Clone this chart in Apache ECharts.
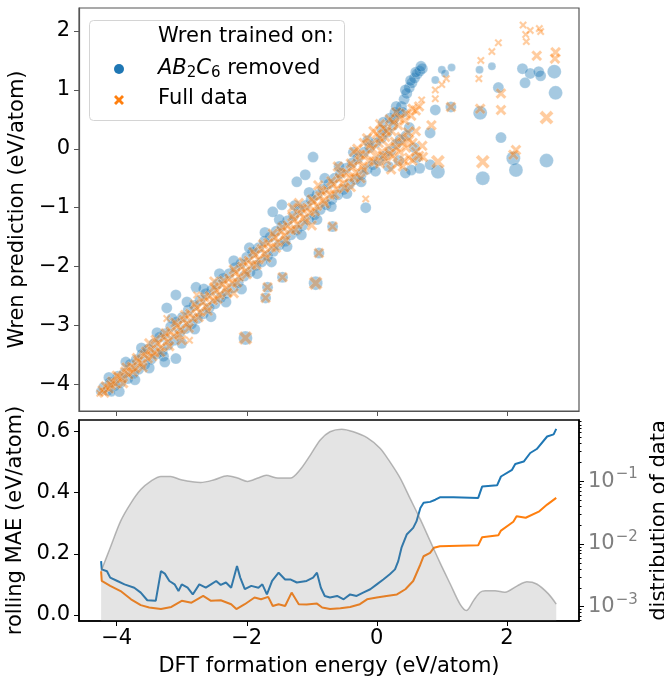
<!DOCTYPE html>
<html>
<head>
<meta charset="utf-8">
<script src="https://cdn.jsdelivr.net/npm/echarts@6/dist/echarts.min.js"></script>
<style>
  html, body { margin: 0; padding: 0; background: #fff; }
  #chart { width: 664px; height: 676px; }
</style>
</head>
<body>
<div id="chart"></div>
<script>
// ---- top panel: parity scatter, [DFT, Wren] (+ size class for the outliers)
var blueBand = [
  [-4.2,-4.05],[-4.14,-4.1],[-4.1,-3.96],[-4.03,-4.02],[-3.98,-3.86],[-3.94,-3.97],[-3.88,-3.8],[-3.83,-3.9],
  [-3.79,-3.66],[-3.74,-3.81],[-3.7,-3.58],[-3.66,-3.74],[-3.61,-3.49],[-3.57,-3.66],[-3.52,-3.4],[-3.47,-3.57],
  [-3.43,-3.31],[-3.39,-3.48],[-3.34,-3.2],[-3.3,-3.44],[-3.26,-3.14],[-3.21,-3.33],[-3.17,-3.02],[-3.12,-3.25],
  [-3.08,-2.94],[-3.03,-3.12],[-2.99,-2.86],[-2.94,-3.05],[-2.9,-2.74],[-2.85,-2.97],[-2.81,-2.66],[-2.76,-2.88],
  [-2.72,-2.57],[-2.67,-2.8],[-2.63,-2.46],[-2.58,-2.7],[-2.54,-2.4],[-2.49,-2.63],[-2.45,-2.3],[-2.4,-2.52],
  [-2.36,-2.2],[-2.31,-2.45],[-2.27,-2.12],[-2.22,-2.36],[-2.18,-2.02],[-2.13,-2.27],[-2.09,-1.95],[-2.04,-2.16],
  [-2.0,-1.84],[-1.95,-2.09],[-1.91,-1.76],[-1.86,-1.98],[-1.82,-1.68],[-1.77,-1.92],[-1.73,-1.57],[-1.68,-1.82],
  [-1.64,-1.5],[-1.59,-1.74],[-1.55,-1.4],[-1.5,-1.63],[-1.46,-1.31],[-1.41,-1.57],[-1.37,-1.22],[-1.32,-1.46],
  [-1.28,-1.14],[-1.23,-1.38],[-1.19,-1.04],[-1.14,-1.3],[-1.1,-0.96],[-1.05,-1.2],[-1.01,-0.86],[-0.96,-1.12],
  [-0.92,-0.78],[-0.87,-1.03],[-0.83,-0.68],[-0.78,-0.95],[-0.74,-0.6],[-0.69,-0.86],[-0.65,-0.5],[-0.6,-0.78],
  [-0.56,-0.42],[-0.51,-0.69],[-0.47,-0.33],[-0.42,-0.6],[-0.38,-0.24],[-0.33,-0.52],[-0.29,-0.16],[-0.24,-0.44],
  [-0.2,-0.06],[-0.15,-0.35],[-0.11,0.02],[-0.06,-0.27],[-0.02,0.1],[0.03,-0.2],[0.07,0.18],[0.12,-0.12],
  [0.16,0.28],[0.21,-0.04],[0.25,0.4],[0.3,0.08],[0.34,0.6],[0.38,0.72],[0.42,0.84],[0.46,0.94],[0.5,1.04],
  [0.54,1.12],[0.58,1.2],[0.62,1.27],[0.66,1.32],[0.7,1.36],[0.1,0.45],[0.2,0.52],[0.28,0.62],[0.36,0.16],[0.45,0.22],
  [-4.12,-3.88],[-3.96,-4.12],[-3.86,-3.62],[-3.72,-3.92],[-3.62,-3.38],[-3.5,-3.72],[-3.38,-3.12],[-3.28,-3.52],
  [-3.15,-2.88],[-3.0,-3.3],[-2.92,-2.6],[-2.8,-3.06],[-2.66,-2.38],[-2.55,-2.85],[-2.42,-2.12],[-2.32,-2.6],
  [-2.2,-1.9],[-2.08,-2.38],[-1.96,-1.68],[-1.84,-2.12],[-1.72,-1.42],[-1.62,-1.92],[-1.5,-1.2],[-1.38,-1.66],
  [-1.26,-0.96],[-1.16,-1.46],[-1.04,-0.74],[-0.92,-1.2],[-0.8,-0.5],[-0.7,-0.98],[-0.58,-0.3],[-0.46,-0.76],
  [-0.36,-0.06],[-0.24,-0.56],[-0.14,0.14],[-0.02,-0.38],[0.08,0.32],[0.18,-0.3],[0.26,0.5],[0.34,-0.2],
  [0.4,0.62],[0.5,0.36],[0.58,0.02],[0.62,-0.15],[0.3,0.72],[0.44,1.0],[0.52,1.16],[0.6,1.3],[0.68,1.4]
];
var blueOut = [
  [1.58,1.34,1],[1.77,1.4,1],[2.24,1.36,2],[2.36,1.28,2],[2.49,1.31,2],[2.52,1.24,2],[2.28,1.12,2],[2.73,1.31,3],
  [2.75,0.95,3],[1.87,1.04,2],[1.59,0.61,3],[1.91,0.19,2],[2.1,-0.16,3],[2.14,-0.36,3],[2.61,-0.2,3],[1.63,-0.5,3],
  [1.14,0.71,2],[1.15,1.38,1],[1.0,1.34,1],[1.05,1.28,1],[0.9,1.17,1],[0.9,0.66,2],[0.82,0.27,2],[0.94,-0.39,3],
  [0.82,-0.27,2],[0.66,-0.33,2],[0.53,-0.36,2],[0.44,-0.41,2],[-3.09,-2.48,2],[-2.78,-2.35,2],[-3.23,-2.7,2],
  [-3.26,-3.62,2],[-3.09,-3.56,2],[-2.02,-3.21,3],[-1.68,-2.35,2],[-1.71,-2.53,2],[-0.89,-1.77,2],[-0.94,-2.28,3],
  [-1.45,-2.18,2],[-0.68,-1.32,2],[-0.17,-1.0,2],[-0.98,-0.14,2],[-1.23,-0.56,2],[-1.1,-0.44,2],[-1.6,-1.07,2],
  [-1.46,-0.95,2],[-4.26,-4.12,1],[-4.08,-4.14,1]
];
var orangeBand = [
  [-4.22,-4.1],[-4.17,-4.03],[-4.12,-4.07],[-4.07,-3.95],[-4.02,-3.99],[-3.97,-3.87],[-3.92,-3.9],[-3.87,-3.78],
  [-3.82,-3.83],[-3.77,-3.7],[-3.72,-3.73],[-3.67,-3.6],[-3.62,-3.65],[-3.57,-3.5],[-3.52,-3.56],[-3.47,-3.41],
  [-3.42,-3.46],[-3.37,-3.3],[-3.32,-3.37],[-3.27,-3.2],[-3.22,-3.27],[-3.17,-3.1],[-3.12,-3.18],[-3.07,-3.0],
  [-3.02,-3.07],[-2.97,-2.9],[-2.92,-2.97],[-2.87,-2.8],[-2.82,-2.88],[-2.77,-2.7],[-2.72,-2.77],[-2.67,-2.6],
  [-2.62,-2.68],[-2.57,-2.5],[-2.52,-2.57],[-2.47,-2.4],[-2.42,-2.48],[-2.37,-2.3],[-2.32,-2.37],[-2.27,-2.2],
  [-2.22,-2.28],[-2.17,-2.1],[-2.12,-2.17],[-2.07,-2.0],[-2.02,-2.08],[-1.97,-1.9],[-1.92,-1.97],[-1.87,-1.8],
  [-1.82,-1.88],[-1.77,-1.7],[-1.72,-1.78],[-1.67,-1.6],[-1.62,-1.67],[-1.57,-1.5],[-1.52,-1.58],[-1.47,-1.4],
  [-1.42,-1.47],[-1.37,-1.3],[-1.32,-1.38],[-1.27,-1.2],[-1.22,-1.28],[-1.17,-1.1],[-1.12,-1.17],[-1.07,-1.0],
  [-1.02,-1.08],[-0.97,-0.9],[-0.92,-0.97],[-0.87,-0.8],[-0.82,-0.88],[-0.77,-0.7],[-0.72,-0.78],[-0.67,-0.6],
  [-0.62,-0.68],[-0.57,-0.5],[-0.52,-0.59],[-0.47,-0.4],[-0.42,-0.49],[-0.37,-0.3],[-0.32,-0.4],[-0.27,-0.2],
  [-0.22,-0.3],[-0.17,-0.1],[-0.12,-0.21],[-0.07,0.0],[-0.02,-0.12],[0.03,0.1],[0.08,-0.05],[0.13,0.2],
  [0.18,0.04],[0.23,0.3],[0.28,0.12],[0.33,0.4],[0.38,0.2],[0.43,0.48],[0.48,0.28],[0.53,0.56],[0.0,0.25],
  [0.1,0.35],[0.2,0.5],[0.3,0.62],[0.05,-0.25],[0.15,-0.2],[0.25,-0.12],[0.35,-0.05],[0.45,0.02],[0.55,0.1],
  [0.5,-0.15],[0.6,-0.05],[0.6,0.3],[0.6,0.65],[0.65,0.72],[-0.3,0.0],[-0.2,0.1],[-0.4,-0.65],[-0.25,-0.5],
  [-1.3,-1.0],[-1.0,-1.3],[-2.5,-2.25],[-2.2,-2.45],[-3.5,-3.3],[-3.0,-3.25],
  [-4.19,-4.14],[-4.09,-4.01],[-4.0,-3.85],[-3.9,-3.98],[-3.85,-3.71],[-3.75,-3.79],[-3.69,-3.55],[-3.6,-3.71],
  [-3.55,-3.44],[-3.45,-3.52],[-3.4,-3.24],[-3.33,-3.45],[-3.25,-3.13],[-3.19,-3.35],[-3.1,-2.95],[-3.04,-3.15],
  [-2.95,-2.82],[-2.89,-3.04],[-2.8,-2.64],[-2.74,-2.86],[-2.65,-2.52],[-2.6,-2.75],[-2.5,-2.35],[-2.45,-2.55],
  [-2.35,-2.24],[-2.3,-2.44],[-2.2,-2.05],[-2.15,-2.27],[-2.05,-1.92],[-2.0,-2.13],[-1.9,-1.75],[-1.85,-1.97],
  [-1.75,-1.62],[-1.7,-1.85],[-1.6,-1.44],[-1.55,-1.68],[-1.45,-1.33],[-1.4,-1.55],[-1.3,-1.15],[-1.25,-1.37],
  [-1.15,-1.02],[-1.1,-1.24],[-1.0,-0.86],[-0.95,-1.06],[-0.85,-0.72],[-0.8,-0.93],[-0.7,-0.55],[-0.65,-0.77],
  [-0.55,-0.42],[-0.5,-0.66],[-0.4,-0.25],[-0.35,-0.48],[-0.25,-0.1],[-0.2,-0.36],[-0.1,0.06],[-0.05,-0.22],
  [0.05,0.18],[0.1,-0.12],[0.15,0.3],[0.2,-0.08],[0.25,0.45],[0.3,0.02],[0.35,0.52],[0.4,0.1],[0.45,0.6],
  [0.5,0.15],[0.55,0.68],[0.55,-0.2],[0.65,-0.12],[0.7,0.05],[0.42,-0.2],[0.32,-0.25],[0.22,-0.35],[-0.05,0.3],
  [-0.15,0.18],[0.05,0.42],[-0.35,-0.05],[-0.6,-0.3],[-0.9,-0.62],[-1.2,-0.92]
];
var orangeOut = [
  [2.25,2.1,1],[2.5,2.04,1],[2.36,2.01,1],[2.29,1.94,1],[2.3,1.82,1],[2.52,1.99,1],[1.87,1.8,1],[1.77,1.65,1],
  [1.6,1.5,1],[2.46,1.58,2],[2.75,1.64,2],[2.74,1.53,2],[1.57,1.19,1],[1.91,0.94,2],[1.91,0.66,2],[1.59,0.68,2],
  [2.61,0.53,3],[2.14,-0.02,2],[2.1,-0.1,2],[1.63,-0.22,3],[1.14,0.71,2],[1.07,1.19,1],[1.0,1.09,1],[0.9,1.0,1],
  [0.9,0.85,1],[0.69,0.83,1],[0.84,0.4,2],[0.94,-0.22,3],[0.71,-0.14,2],[0.4,-0.3,2],[-2.02,-3.21,3],
  [-1.68,-2.35,2],[-1.71,-2.53,2],[-0.89,-1.77,2],[-0.94,-2.28,3],[-1.45,-2.18,2],[-0.68,-1.32,2],[-0.17,-0.85,1],
  [-3.23,-2.88,1],[-2.77,-2.48,1],[-2.88,-3.25,1],[-4.26,-4.15,1]
];

// ---- bottom panel: rolling MAE (eV/atom) and data density
var blueMaeX = [-4.24,-4.23,-4.15,-4.1,-3.99,-3.88,-3.73,-3.63,-3.53,-3.4,-3.32,-3.26,-3.19,-3.11,-3.05,-3.0,
  -2.91,-2.83,-2.73,-2.63,-2.55,-2.47,-2.4,-2.32,-2.24,-2.15,-2.1,-2.03,-1.93,-1.82,-1.76,-1.69,-1.61,-1.51,-1.41,
  -1.33,-1.23,-1.08,-0.98,-0.92,-0.86,-0.8,-0.72,-0.61,-0.51,-0.41,-0.31,-0.21,-0.1,0.0,0.1,0.2,0.28,0.33,0.38,
  0.46,0.56,0.61,0.67,0.72,0.82,0.9,0.97,1.18,1.56,1.62,1.85,1.91,2.08,2.13,2.26,2.36,2.46,2.62,2.72,2.76];
var blueMae = [0.176,0.149,0.143,0.122,0.111,0.1,0.089,0.073,0.048,0.046,0.143,0.135,0.111,0.1,0.078,0.1,
  0.089,0.067,0.1,0.089,0.1,0.111,0.098,0.106,0.089,0.16,0.122,0.084,0.095,0.089,0.1,0.067,0.111,0.138,0.116,
  0.116,0.106,0.111,0.122,0.138,0.089,0.062,0.057,0.062,0.051,0.067,0.062,0.073,0.084,0.1,0.116,0.133,0.149,0.176,0.22,
  0.263,0.285,0.306,0.35,0.367,0.37,0.377,0.385,0.385,0.383,0.42,0.424,0.453,0.475,0.494,0.502,0.53,0.543,0.584,0.591,0.609];
var orangeMaeX = [-4.24,-4.23,-4.1,-3.94,-3.78,-3.63,-3.5,-3.32,-3.16,-3.0,-2.85,-2.67,-2.55,-2.4,-2.24,-2.16,
  -2.03,-1.88,-1.78,-1.67,-1.6,-1.51,-1.41,-1.31,-1.2,-1.08,-0.92,-0.84,-0.72,-0.56,-0.41,-0.26,-0.15,0.0,0.15,
  0.31,0.44,0.56,0.67,0.72,0.82,0.88,0.97,1.56,1.62,1.87,1.91,2.1,2.15,2.29,2.5,2.62,2.76];
var orangeMae = [0.143,0.111,0.095,0.078,0.051,0.032,0.024,0.019,0.026,0.046,0.04,0.062,0.046,0.048,0.035,0.019,
  0.035,0.057,0.051,0.059,0.029,0.035,0.029,0.073,0.035,0.034,0.037,0.024,0.019,0.022,0.026,0.035,0.051,0.057,0.062,
  0.067,0.084,0.111,0.165,0.192,0.203,0.22,0.225,0.228,0.254,0.261,0.276,0.305,0.323,0.318,0.339,0.361,0.383];
var kdeX = [-4.24,-4.1,-3.94,-3.78,-3.63,-3.48,-3.32,-3.17,-3.01,-2.71,-2.5,-2.3,-2.14,-1.99,-1.83,-1.7,-1.52,
  -1.33,-1.18,-1.02,-0.87,-0.72,-0.54,-0.36,-0.15,0.05,0.2,0.36,0.51,0.67,0.82,0.97,1.13,1.28,1.38,1.49,1.59,
  1.67,1.82,1.97,2.16,2.31,2.46,2.64,2.76];
var kdeY = [0.0037,0.0087,0.0232,0.0454,0.074,0.1,0.12,0.12,0.106,0.096,0.106,0.123,0.113,0.1,0.113,0.125,0.113,
  0.113,0.153,0.265,0.459,0.62,0.68,0.62,0.5,0.339,0.207,0.113,0.054,0.0247,0.0112,0.0051,0.0023,0.0011,0.00087,
  0.00126,0.0017,0.0018,0.0018,0.0017,0.00215,0.0025,0.0023,0.0016,0.0011];

// ---- ticks
var xTicks = [-4, -2, 0, 2];
var predTicks = [-4, -3, -2, -1, 0, 1, 2];
var maeTicks = [0, 0.2, 0.4, 0.6];
var densTicks = [0.001, 0.01, 0.1];
var densMinor = [0.0006,0.0007,0.0008,0.0009,0.002,0.003,0.004,0.005,0.006,0.007,0.008,0.009,
  0.02,0.03,0.04,0.05,0.06,0.07,0.08,0.09,0.2,0.3,0.4,0.5,0.6,0.7,0.8,0.9];

var FONT = 'DejaVu Sans';
var FS = 21;
var BLUE = '#1f77b4', ORANGE = '#ff7f0e';
// filled "X" marker outline in a 10x10 box
var X_OUTLINE = [[2,0],[5,3],[8,0],[10,2],[7,5],[10,8],[8,10],[5,7],[2,10],[0,8],[3,5],[0,2]];
var XMARK = 'path://M' + X_OUTLINE.map(function (p) { return p.join(','); }).join('L') + 'Z';
var minus = function (v) { return String(v).replace('-', '\u2212'); };
var pairs = function (xs, ys) { return xs.map(function (x, i) { return [x, ys[i]]; }); };
var sizer = function (base) {
  return function (d) { return d.length > 2 ? [0, 8, 11, 14][d[2]] : base; };
};
var nameStyle = { fontSize: FS, color: '#000', fontFamily: FONT };

var chart = echarts.init(document.getElementById('chart'));

var option = {
  animation: false,
  textStyle: { fontFamily: FONT, color: '#000' },
  grid: [
    { left: 79, top: 8, width: 500, height: 403, show: true, borderColor: '#555', borderWidth: 1.2,
      containLabel: false, outerBoundsMode: 'none' },
    { left: 79, top: 420, width: 500, height: 201, show: true, borderColor: '#000', borderWidth: 1.5,
      containLabel: false, outerBoundsMode: 'none' }
  ],
  xAxis: [
    { gridIndex: 0, type: 'value', min: -4.58, max: 3.11,
      axisLine: { onZero: false, lineStyle: { color: '#555', width: 1.2 } },
      axisTick: { customValues: xTicks, length: 5, lineStyle: { color: '#555' } },
      axisLabel: { show: false }, splitLine: { show: false } },
    { gridIndex: 1, type: 'value', min: -4.58, max: 3.11,
      name: 'DFT formation energy (eV/atom)', nameLocation: 'middle', nameGap: 35,
      nameTextStyle: nameStyle,
      axisLine: { onZero: false, lineStyle: { color: '#000', width: 1.5 } },
      axisTick: { customValues: xTicks, length: 5, lineStyle: { color: '#000' } },
      axisLabel: { customValues: xTicks, fontSize: FS, color: '#000', margin: 7, formatter: minus },
      splitLine: { show: false } }
  ],
  yAxis: [
    { gridIndex: 0, type: 'value', min: -4.45, max: 2.39,
      name: 'Wren prediction (eV/atom)', nameLocation: 'middle', nameGap: 45,
      nameTextStyle: nameStyle,
      axisLine: { onZero: false, lineStyle: { color: '#555', width: 1.2 } },
      axisTick: { customValues: predTicks, length: 5, lineStyle: { color: '#555' } },
      axisLabel: { customValues: predTicks, fontSize: FS, color: '#000', margin: 9, formatter: minus },
      splitLine: { show: false } },
    { gridIndex: 1, type: 'value', min: -0.02, max: 0.638,
      name: 'rolling MAE (eV/atom)', nameLocation: 'middle', nameGap: 45,
      nameTextStyle: nameStyle,
      axisLine: { onZero: false, lineStyle: { color: '#000', width: 1.5 } },
      axisTick: { customValues: maeTicks, length: 5, lineStyle: { color: '#000' } },
      axisLabel: { customValues: maeTicks, fontSize: FS, color: '#000', margin: 9,
        formatter: function (v) { return v.toFixed(1); } },
      splitLine: { show: false } },
    { gridIndex: 1, type: 'log', logBase: 10, position: 'right', min: 0.00059, max: 0.955,
      name: 'distribution of data', nameLocation: 'middle', nameGap: 62,
      nameTextStyle: nameStyle,
      axisLine: { show: true, onZero: false, lineStyle: { color: '#000', width: 1.5 } },
      axisTick: { customValues: densTicks, length: 5, lineStyle: { color: '#000' } },
      axisLabel: { customValues: densTicks, margin: 9,
        formatter: function (v) {
          return '{b|10}{e|\u2212' + Math.round(-Math.log10(v)) + '}';
        },
        rich: {
          b: { fontSize: FS, color: '#808080', fontFamily: FONT },
          e: { fontSize: 15, color: '#808080', fontFamily: FONT, verticalAlign: 'top', padding: [0, 0, 14, 1] }
        } },
      splitLine: { show: false } },
    { gridIndex: 1, type: 'log', logBase: 10, position: 'right', min: 0.00059, max: 0.955,
      axisLine: { show: false, onZero: false }, axisLabel: { show: false }, splitLine: { show: false },
      axisTick: { customValues: densMinor, length: 2.5, lineStyle: { color: '#000', width: 1 } } }
  ],
  series: [
    { type: 'scatter', xAxisIndex: 0, yAxisIndex: 0, symbol: 'circle',
      data: blueBand.concat(blueOut), symbolSize: sizer(11),
      itemStyle: { color: BLUE, opacity: 0.4, borderColor: '#fff', borderWidth: 0.5 } },
    { type: 'scatter', xAxisIndex: 0, yAxisIndex: 0, symbol: XMARK,
      data: orangeBand.concat(orangeOut), symbolSize: sizer(11),
      itemStyle: { color: ORANGE, opacity: 0.4, borderColor: '#fff', borderWidth: 0.5 } },
    { type: 'line', xAxisIndex: 1, yAxisIndex: 1, data: pairs(blueMaeX, blueMae),
      showSymbol: false, lineStyle: { color: BLUE, width: 2 }, z: 2 },
    { type: 'line', xAxisIndex: 1, yAxisIndex: 1, data: pairs(orangeMaeX, orangeMae),
      showSymbol: false, lineStyle: { color: ORANGE, width: 2 }, z: 2 },
    { type: 'line', xAxisIndex: 1, yAxisIndex: 2, data: pairs(kdeX, kdeY), smooth: 0.3,
      showSymbol: false, z: 3,
      lineStyle: { color: 'rgba(128,128,128,0.55)', width: 1.5 },
      areaStyle: { color: 'rgba(128,128,128,0.3)', origin: 'start' } }
  ],
  graphic: [
    { type: 'rect', z: 10, shape: { x: 89.5, y: 20.5, width: 255, height: 100, r: 4 },
      style: { fill: 'rgba(255,255,255,0.8)', stroke: '#d4d4d4', lineWidth: 1 } },
    { type: 'text', z: 11, x: 158, y: 37,
      style: { text: 'Wren trained on:', font: FS + 'px "DejaVu Sans"', fill: '#000', verticalAlign: 'middle' } },
    { type: 'circle', z: 11, shape: { cx: 119, cy: 69, r: 5 }, style: { fill: BLUE } },
    { type: 'text', z: 11, x: 158, y: 69,
      style: { text: '{i|AB}{s|2}{i|C}{s|6}{n| removed}', verticalAlign: 'middle', fill: '#000',
        rich: {
          i: { fontFamily: FONT, fontSize: FS, fontStyle: 'italic' },
          s: { fontFamily: FONT, fontSize: 15, verticalAlign: 'bottom', padding: [8, 0, 0, 0] },
          n: { fontFamily: FONT, fontSize: FS }
        } } },
    { type: 'polygon', z: 11, x: 114, y: 95, shape: { points: X_OUTLINE }, style: { fill: ORANGE } },
    { type: 'text', z: 11, x: 158, y: 99,
      style: { text: 'Full data', font: FS + 'px "DejaVu Sans"', fill: '#000', verticalAlign: 'middle' } }
  ]
};

chart.setOption(option);
</script>
</body>
</html>
